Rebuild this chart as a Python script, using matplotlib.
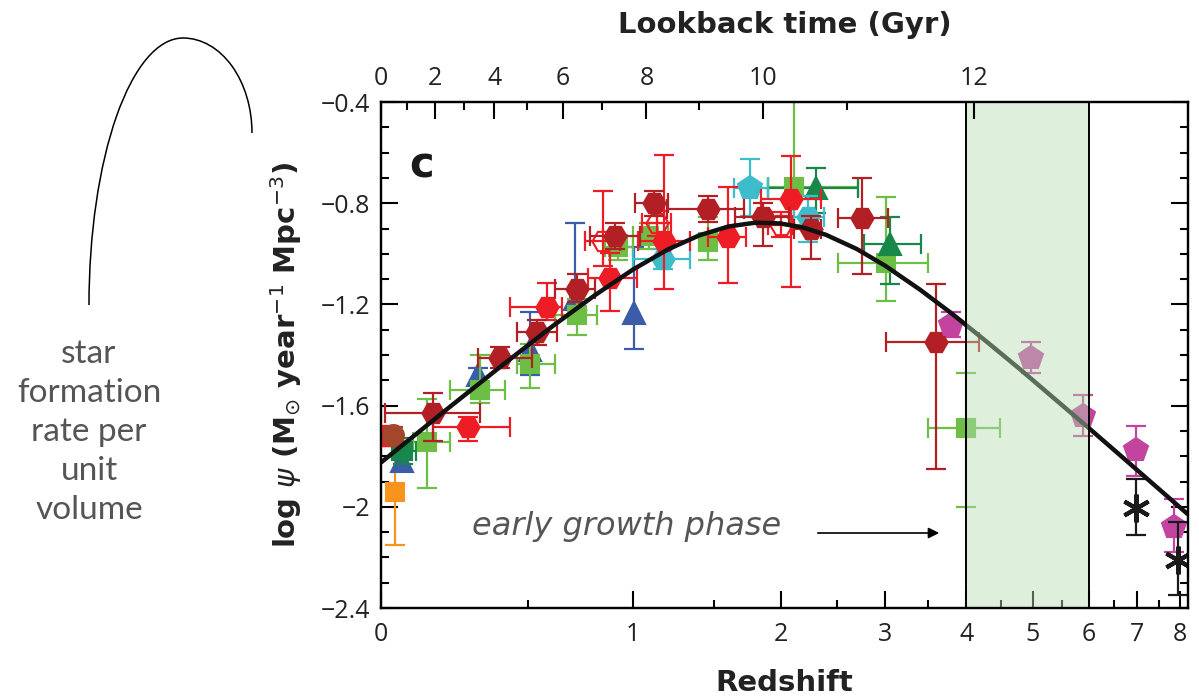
import numpy as np
import matplotlib
matplotlib.use("Agg")
import matplotlib.pyplot as plt
from matplotlib.patches import Arc

# ---------------- data ----------------
# fitted curve samples (redshift, log psi)
curve_z = [0, 0.2, 0.4, 0.6, 0.8, 1.0, 1.2, 1.4, 1.6, 1.8, 2.0, 2.2, 2.4, 2.7,
           3.0, 3.4, 3.8, 4.3, 4.8, 5.4, 6.0, 6.7, 7.4, 8.2]
curve_y = [-1.825, -1.613, -1.437, -1.288, -1.164, -1.062, -0.983, -0.927,
           -0.892, -0.877, -0.880, -0.897, -0.925, -0.981, -1.047, -1.141,
           -1.235, -1.350, -1.457, -1.578, -1.688, -1.807, -1.916, -2.030]

# dark red hexagons
dr_z = [0.154, 0.388, 0.537, 0.712, 0.905, 1.116, 1.455, 1.856, 2.26, 2.75, 3.60]
dr_y = [-1.63, -1.41, -1.31, -1.14, -0.93, -0.80, -0.823, -0.855, -0.90, -0.86, -1.35]
dr_elo = [0.11, 0.04, 0.05, 0.05, 0.05, 0.05, 0.05, 0.115, 0.12, 0.22, 0.50]
dr_ehi = [0.08, 0.04, 0.05, 0.06, 0.05, 0.05, 0.05, 0.055, 0.05, 0.16, 0.23]
dr_zlo = [0.011, 0.306, 0.455, 0.615, 0.778, 1.013, 1.198, 1.65, 2.11, 2.51, 3.01]
dr_zhi = [0.313, 0.516, 0.624, 0.803, 1.04, 1.204, 1.71, 2.07, 2.35, 3.03, 4.18]

# bright red hexagons
rd_z = [0.02, 0.271, 0.580, 0.879, 1.175, 1.594, 2.085]
rd_y = [-1.72, -1.685, -1.21, -1.095, -0.95, -0.935, -0.783]
rd_elo = [0.04, 0.055, 0.05, 0.13, 0.19, 0.18, 0.35]
rd_ehi = [0.04, 0.04, 0.095, 0.10, 0.34, 0.20, 0.17]
rd_zlo = [0.0, 0.154, 0.427, 0.769, 1.03, 1.455, 1.84]
rd_zhi = [0.04, 0.427, 0.646, 1.024, 1.342, 1.725, 2.35]

# open red hexagons
ro_z = [0.839, 1.138, 2.0]
ro_y = [-0.95, -0.88, -0.885]
ro_elo = [0.10, 0.05, 0.05]
ro_ehi = [0.20, 0.05, 0.05]
ro_zlo = [0.75, 1.05, 1.9]
ro_zhi = [0.93, 1.22, 2.1]

# light green squares
lg_z = [0.135, 0.313, 0.507, 0.716, 0.921, 1.087, 1.455, 2.11, 3.01, 3.995]
lg_y = [-1.745, -1.54, -1.435, -1.24, -0.975, -0.93, -0.955, -0.735, -1.035, -1.69]
lg_elo = [0.18, 0.05, 0.095, 0.08, 0.05, 0.05, 0.07, 0.15, 0.15, 0.31]
lg_ehi = [0.17, 0.14, 0.08, 0.06, 0.05, 0.05, 0.10, 0.40, 0.26, 0.22]
lg_zlo = [0.092, 0.209, 0.455, 0.615, 0.85, 1.0, 1.40, 1.897, 2.51, 3.50]
lg_zhi = [0.209, 0.407, 0.615, 0.813, 1.0, 1.2, 1.5, 2.71, 3.50, 4.485]

# dark green square and triangles
dgs_z = [0.062]
dgs_y = [-1.78]
dgs_elo = [0.05]
dgs_ehi = [0.05]
dgs_zlo = [0.03]
dgs_zhi = [0.10]
dgt_z = [2.305, 3.05]
dgt_y = [-0.74, -0.96]
dgt_elo = [0.10, 0.16]
dgt_ehi = [0.08, 0.105]
dgt_zlo = [1.897, 2.77]
dgt_zhi = [2.71, 3.41]

# blue triangles
bl_z = [0.06, 0.306, 0.507, 0.706, 1.007]
bl_y = [-1.82, -1.48, -1.38, -1.18, -1.235]
bl_elo = [0.03, 0.03, 0.10, 0.06, 0.14]
bl_ehi = [0.03, 0.03, 0.15, 0.30, 0.26]

# cyan hexagons and pentagon
cyh_z = [1.169, 2.233]
cyh_y = [-1.02, -0.855]
cyh_elo = [0.04, 0.10]
cyh_ehi = [0.04, 0.085]
cyh_zlo = [1.0, 2.11]
cyh_zhi = [1.342, 2.38]
cyp_z = [1.755]
cyp_y = [-0.74]
cyp_elo = [0.11]
cyp_ehi = [0.115]
cyp_zlo = [1.637]
cyp_zhi = [1.897]

# magenta pentagons
mg_z = [3.795, 4.97, 5.90, 6.98, 7.86]
mg_y = [-1.28, -1.41, -1.64, -1.775, -2.08]
mg_elo = [0.05, 0.06, 0.08, 0.105, 0.10]
mg_ehi = [0.05, 0.06, 0.08, 0.095, 0.11]

# black asterisks
bk_z = [6.98, 7.96]
bk_y = [-2.005, -2.21]
bk_elo = [0.105, 0.14]
bk_ehi = [0.115, 0.15]

# orange square
or_z = [0.039]
or_y = [-1.94]
or_elo = [0.21]
or_ehi = [0.20]

# brown circle
br_z = [0.034]
br_y = [-1.715]

yticks = [-2.4, -2.0, -1.6, -1.2, -0.8, -0.4]
ytick_labels = ["\u22122.4", "\u22122", "\u22121.6", "\u22121.2", "\u22120.8", "\u22120.4"]
xticks = [0, 1, 2, 3, 4, 5, 6, 7, 8]
tticks = [0, 2, 4, 6, 8, 10, 12]
tticks_minor = [1, 3, 5, 7, 9, 11]

# ---------------- scales ----------------
def fwd(z):
    z = np.asarray(z, dtype=float)
    return np.log10(np.clip(1.0 + z, 1e-6, None))

def inv(L):
    return 10.0 ** np.asarray(L, dtype=float) - 1.0

# lookback time (flat LCDM, H0=70, Om=0.3) -> redshift, for the top axis
_zg = np.linspace(0, 40, 40001)
_integrand = 1.0 / ((1 + _zg) * np.sqrt(0.3 * (1 + _zg) ** 3 + 0.7))
_tg = np.concatenate([[0], np.cumsum(0.5 * (_integrand[1:] + _integrand[:-1]) * np.diff(_zg))]) * 977.8 / 70.0

def t2z(t):
    return np.interp(np.asarray(t, dtype=float), _tg, _zg)

# ---------------- figure ----------------
fig = plt.figure(figsize=(11.99, 6.97), dpi=100)
ax = fig.add_axes([381 / 1199, 89 / 697, 807 / 1199, 506 / 697])
ax.set_xscale('function', functions=(fwd, inv))
ax.set_xlim(0, 8.2)
ax.set_ylim(-2.4, -0.4)

def err(ax, z, y, elo, ehi, zlo=None, zhi=None, color='k', marker='o', ms=15,
        mfc=None, zorder=3, mew=1.5):
    z = np.asarray(z, float)
    xerr = None
    if zlo is not None:
        xerr = [z - np.asarray(zlo, float), np.asarray(zhi, float) - z]
    ax.errorbar(z, y, yerr=[elo, ehi], xerr=xerr, fmt='none', ecolor=color,
                elinewidth=1.6, capsize=7, capthick=1.6, zorder=zorder)
    ax.plot(z, y, linestyle='none', marker=marker, ms=ms, color=color,
            mfc=color if mfc is None else mfc, mec=color, mew=mew, zorder=zorder + 0.1)

c_dr = '#B21F24'
c_rd = '#EE1C25'
c_lg = '#6CBE45'
c_dg = '#17884A'
c_bl = '#3A5CA9'
c_cy = '#3DBCCB'
c_mg = '#C2449F'
c_or = '#F7941D'
c_br = '#A3462B'

err(ax, or_z, or_y, or_elo, or_ehi, color=c_or, marker='s', ms=13, zorder=2)
err(ax, bl_z, bl_y, bl_elo, bl_ehi, color=c_bl, marker='^', ms=16, zorder=2)
err(ax, lg_z, lg_y, lg_elo, lg_ehi, lg_zlo, lg_zhi, color=c_lg, marker='s', ms=13, zorder=2.2)
err(ax, dgs_z, dgs_y, dgs_elo, dgs_ehi, dgs_zlo, dgs_zhi, color=c_dg, marker='s', ms=13, zorder=2.3)
err(ax, dgt_z, dgt_y, dgt_elo, dgt_ehi, dgt_zlo, dgt_zhi, color=c_dg, marker='^', ms=16, zorder=2.3)
err(ax, cyh_z, cyh_y, cyh_elo, cyh_ehi, cyh_zlo, cyh_zhi, color=c_cy, marker='H', ms=16, zorder=2.4)
err(ax, cyp_z, cyp_y, cyp_elo, cyp_ehi, cyp_zlo, cyp_zhi, color=c_cy, marker='p', ms=18, zorder=2.4)
err(ax, ro_z, ro_y, ro_elo, ro_ehi, ro_zlo, ro_zhi, color=c_rd, marker='H', ms=16, mfc='none', zorder=2.5)
err(ax, rd_z, rd_y, rd_elo, rd_ehi, rd_zlo, rd_zhi, color=c_rd, marker='H', ms=16, zorder=2.6)
err(ax, dr_z, dr_y, dr_elo, dr_ehi, dr_zlo, dr_zhi, color=c_dr, marker='H', ms=16, zorder=2.7)
err(ax, br_z, br_y, [0.03], [0.03], color=c_br, marker='o', ms=15, zorder=2.8)
err(ax, mg_z, mg_y, mg_elo, mg_ehi, color=c_mg, marker='p', ms=18, zorder=2.8)
err(ax, bk_z, bk_y, bk_elo, bk_ehi, color='#1a1a1a', marker=(6, 2, 0), ms=20, mew=3, zorder=2.9)

ax.plot(curve_z, curve_y, color='#111111', lw=3.2, zorder=4, solid_capstyle='butt')

# shaded early growth phase
ax.axvspan(4, 6, facecolor='#b7dcb2', alpha=0.45, edgecolor='none', zorder=5)
ax.axvline(4, color='black', lw=1.4, zorder=5.1)
ax.axvline(6, color='black', lw=1.4, zorder=5.1)

# ticks
tick_font = 'Open Sans'
ax.set_xticks(xticks)
ax.set_xticks([0.5, 1.5, 2.5, 3.5, 4.5, 5.5, 6.5, 7.5], minor=True)
ax.set_xticklabels([str(v) for v in xticks])
ax.set_yticks(yticks)
ax.set_yticklabels(ytick_labels)
ax.set_yticks(np.round(np.arange(-2.4, -0.39, 0.1), 2), minor=True)
ax.tick_params(which='both', direction='in', top=False, right=True, width=1.5, colors='black')
ax.tick_params(which='major', length=12, labelsize=18)
ax.tick_params(axis='x', which='major', pad=10)
ax.tick_params(axis='y', which='major', pad=8)
ax.tick_params(which='minor', length=6)
for s in ax.spines.values():
    s.set_linewidth(1.6)
for lab in ax.get_xticklabels() + ax.get_yticklabels():
    lab.set_family(tick_font)
    lab.set_color('#222222')

# top axis: lookback time
top = ax.twiny()
top.set_xscale('function', functions=(fwd, inv))
top.set_xlim(ax.get_xlim())
top.set_xticks(t2z(tticks))
top.set_xticklabels([str(v) for v in tticks])
top.set_xticks(t2z(tticks_minor), minor=True)
top.tick_params(which='both', direction='in', width=1.5)
top.tick_params(which='major', length=12, labelsize=18, pad=8)
top.tick_params(which='minor', length=6)
for s in top.spines.values():
    s.set_linewidth(1.6)
for lab in top.get_xticklabels():
    lab.set_family(tick_font)
    lab.set_color('#222222')

lab_kw = dict(fontsize=21, fontweight='bold', family='DejaVu Sans', color='#222222')
ax.set_xlabel('Redshift', labelpad=16, **lab_kw)
top.set_xlabel('Lookback time (Gyr)', labelpad=24, **lab_kw)
ax.set_ylabel(r'log $\psi$ (M$_{\odot}$ year$^{-1}$ Mpc$^{-3}$)', labelpad=12,
              fontsize=21, fontweight='bold', family='DejaVu Sans', color='#222222')

ax.text(0.035, 0.875, 'c', transform=ax.transAxes, fontsize=30, fontweight='bold',
        family='DejaVu Sans', color='#1a1a1a', va='center', ha='left')

# ---------------- annotations ----------------
W, H = 1199.0, 697.0
fig.text(89 / W, 1 - 432 / H, 'star\nformation\nrate per\nunit\nvolume', ha='center', va='center',
         fontsize=24, family='Lato', color='#555555', linespacing=1.38)
arc1 = Arc((183 / W, 1 - 305 / H), 2 * 94 / W, 2 * 267 / H, theta1=90, theta2=180,
           transform=fig.transFigure, color='black', lw=1.1)
arc2 = Arc((183 / W, 1 - 133 / H), 2 * 69 / W, 2 * 95 / H, theta1=0, theta2=90,
           transform=fig.transFigure, color='black', lw=1.1)
fig.add_artist(arc1)
fig.add_artist(arc2)

fig.text(627 / W, 1 - 527 / H, 'early growth phase', ha='center', va='center',
         fontsize=23, family='DejaVu Sans', style='italic', color='#555555')
ax.annotate('', xy=(942, H - 533), xytext=(815, H - 533), xycoords='figure pixels',
            textcoords='figure pixels', annotation_clip=False,
            arrowprops=dict(arrowstyle='-|>', color='black', lw=1.2, mutation_scale=16))

fig.savefig('out.png', dpi=100)
